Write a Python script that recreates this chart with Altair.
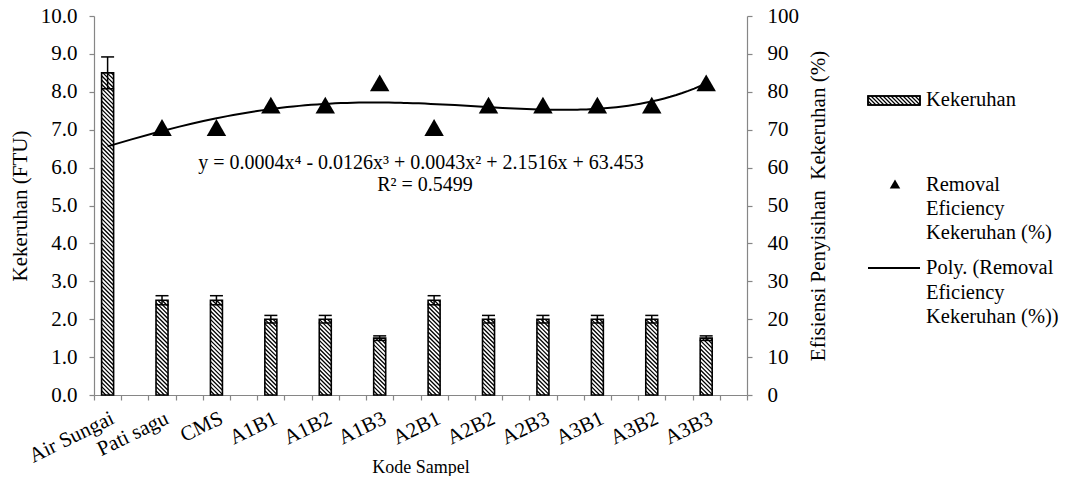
import json
import altair as alt
import pandas as pd

# ---------------- data ----------------
categories = ["Air Sungai", "Pati sagu", "CMS", "A1B1", "A1B2", "A1B3",
              "A2B1", "A2B2", "A2B3", "A3B1", "A3B2", "A3B3"]
kekeruhan = [8.5, 2.5, 2.5, 2.0, 2.0, 1.5, 2.5, 2.0, 2.0, 2.0, 2.0, 1.5]
kekeruhan_err = [0.42, 0.12, 0.12, 0.1, 0.1, 0.06, 0.12, 0.1, 0.1, 0.1, 0.1, 0.06]
efisiensi = [None, 70.59, 70.59, 76.47, 76.47, 82.35, 70.59,
             76.47, 76.47, 76.47, 76.47, 82.35]
left_ticks = [0, 1, 2, 3, 4, 5, 6, 7, 8, 9, 10]
right_ticks = [0, 10, 20, 30, 40, 50, 60, 70, 80, 90, 100]

equation = "y = 0.0004x\u2074 - 0.0126x\u00b3 + 0.0043x\u00b2 + 2.1516x + 63.453"
r2_text = "R\u00b2 = 0.5499"

# ---------------- style ----------------
FONT = "Liberation Serif, Times New Roman, serif"
FS = 21
LFS = 20.5
W, H = 653, 379
GRAY = "#868686"
PX_X = W / 12.0          # pixels per x unit (one category)
PX_Y = H / 10.0          # pixels per left-axis unit

df = pd.DataFrame({
    "cat": categories,
    "kek": kekeruhan,
    "err": kekeruhan_err,
    "eff": efisiensi,
    "idx": list(range(1, len(categories) + 1)),
})

x_scale = alt.Scale(domain=[0, 12], nice=False, zero=False, padding=0)
y1_scale = alt.Scale(domain=[0, 10], nice=False, padding=0)
y2_scale = alt.Scale(domain=[0, 100], nice=False, padding=0)

is_label = "((datum.value * 4) % 4) == 1"
tick_values = [i * 0.5 for i in range(25)] + [i + 0.25 for i in range(12)]
x_axis = alt.Axis(
    values=tick_values,
    labelExpr=f"{is_label} ? {json.dumps(categories)}[floor(datum.value)] : ''",
    labelAngle=334, labelAlign="right", labelBaseline="top",
    labelPadding=7, labelOverlap=False, labelFlush=False, labelBound=False,
    tickOpacity={"condition": {"test": is_label, "value": 0}, "value": 1},
    tickSize=5, tickColor=GRAY, domainColor=GRAY, tickWidth=1.2, domainWidth=1.2,
    grid=False, title="Kode Sampel", titleFont=FONT, titleFontSize=18,
    titleFontWeight="normal", titleColor="black", titleY=72, titleBaseline="middle",
    labelFont=FONT, labelFontSize=FS, labelColor="black",
)
y1_axis = alt.Axis(
    orient="left", values=left_ticks, format=".1f", grid=False,
    tickSize=5, tickColor=GRAY, domainColor=GRAY, tickWidth=1.2, domainWidth=1.2,
    labelFont=FONT, labelFontSize=FS, labelColor="black", labelPadding=12,
    title="Kekeruhan (FTU)", titleFont=FONT, titleFontSize=FS,
    titleFontWeight="normal", titleColor="black", titleX=-74, titleBaseline="middle",
)
y2_axis = alt.Axis(
    orient="right", values=right_ticks, format="d", grid=False,
    tickSize=5, tickColor=GRAY, domainColor=GRAY, tickWidth=1.2, domainWidth=1.2,
    labelFont=FONT, labelFontSize=FS, labelColor="black", labelPadding=15,
    title="Efisiensi Penyisihan\u00a0 Kekeruhan (%)", titleFont=FONT, titleFontSize=FS,
    titleFontWeight="normal", titleColor="black", titleAngle=270, titleX=71,
    titleBaseline="middle",
)

base = alt.Chart(df).transform_calculate(xpos="datum.idx - 0.75")

BAR_PX = 12
hw = (BAR_PX / 2.0) / PX_X           # half bar width in x units
D = (BAR_PX) / PX_Y                  # vertical drop of one hatch stroke
S = 4.2 / PX_Y                       # hatch spacing

bars_fill = base.mark_bar(size=BAR_PX, fill="white", strokeWidth=0).encode(
    x=alt.X("xpos:Q", scale=x_scale, axis=x_axis),
    y=alt.Y("kek:Q", scale=y1_scale, axis=y1_axis),
)

hatch = base.transform_calculate(
    s=f"sequence({-D}, datum.kek, {S})"
).transform_flatten(["s"]).transform_calculate(
    yl=f"datum.s + {D}",
    yr="datum.s",
    xl=f"datum.xpos - {hw}",
    xr=f"datum.xpos + {hw}",
).transform_calculate(
    xr2=f"datum.yr < 0 ? datum.xl + (datum.yl / {D}) * {2 * hw} : datum.xr",
    yr2="max(datum.yr, 0)",
    xl2=f"datum.yl > datum.kek ? datum.xl + ((datum.yl - datum.kek) / {D}) * {2 * hw} : datum.xl",
    yl2="min(datum.yl, datum.kek)",
).mark_rule(color="black", strokeWidth=1.3).encode(
    x=alt.X("xl2:Q", scale=x_scale, axis=x_axis),
    x2="xr2:Q",
    y=alt.Y("yl2:Q", scale=y1_scale, axis=y1_axis),
    y2="yr2:Q",
)

bars_outline = base.mark_bar(size=BAR_PX, fillOpacity=0, stroke="black",
                             strokeWidth=1.6).encode(
    x=alt.X("xpos:Q", scale=x_scale, axis=x_axis),
    y=alt.Y("kek:Q", scale=y1_scale, axis=y1_axis),
)

err_base = base.transform_calculate(lo="datum.kek - datum.err",
                                    hi="datum.kek + datum.err")
err_rule = err_base.mark_rule(color="black", strokeWidth=1.5).encode(
    x=alt.X("xpos:Q", scale=x_scale, axis=x_axis),
    y=alt.Y("lo:Q", scale=y1_scale, axis=y1_axis),
    y2="hi:Q",
)
err_cap_hi = err_base.mark_tick(orient="horizontal", size=13, thickness=1.5,
                                color="black", opacity=1).encode(
    x=alt.X("xpos:Q", scale=x_scale, axis=x_axis),
    y=alt.Y("hi:Q", scale=y1_scale, axis=y1_axis),
)
err_cap_lo = err_base.mark_tick(orient="horizontal", size=13, thickness=1.5,
                                color="black", opacity=1).encode(
    x=alt.X("xpos:Q", scale=x_scale, axis=x_axis),
    y=alt.Y("lo:Q", scale=y1_scale, axis=y1_axis),
)

left_layer = alt.layer(bars_fill, hatch, bars_outline, err_rule, err_cap_hi, err_cap_lo)

# ---- secondary axis: removal efficiency + polynomial trend ----
eff_base = alt.Chart(df).transform_filter("isValid(datum.eff)")
trend = eff_base.transform_regression(
    "idx", "eff", method="poly", order=4, extent=[1, 12]
).transform_calculate(xpos="datum.idx - 0.75").mark_line(
    color="black", strokeWidth=2
).encode(
    x=alt.X("xpos:Q", scale=x_scale, axis=x_axis),
    y=alt.Y("eff:Q", scale=y2_scale, axis=y2_axis),
)
points = eff_base.transform_calculate(xpos="datum.idx - 0.75").mark_point(
    shape="triangle-up", filled=True, size=380, color="black", opacity=1
).encode(
    x=alt.X("xpos:Q", scale=x_scale, axis=x_axis),
    y=alt.Y("eff:Q", scale=y2_scale, axis=y2_axis),
)

# ---- annotations and legend (pixel positions, decoration only) ----
one = pd.DataFrame({"k": [0]})
texts = []
for txt, tx, ty, al, fs in [
    (equation, 327, 147, "center", 20),
    (r2_text, 331, 169, "center", 20),
    ("Kekeruhan", 832, 84, "left", LFS),
    ("Removal", 832, 169, "left", LFS),
    ("Eficiency", 832, 193, "left", LFS),
    ("Kekeruhan (%)", 832, 217, "left", LFS),
    ("Poly. (Removal", 832, 252, "left", LFS),
    ("Eficiency", 832, 277, "left", LFS),
    ("Kekeruhan (%))", 832, 301, "left", LFS),
]:
    texts.append(alt.Chart(one).mark_text(
        font=FONT, fontSize=fs, align=al, baseline="middle", color="black"
    ).encode(x=alt.value(tx), y=alt.value(ty), text=alt.value(txt)))

SW_X, SW_Y, SW_W, SW_H = 774, 80, 52, 9
swatch_bg = alt.Chart(one).mark_rect(fill="white", stroke="black", strokeWidth=1.5).encode(
    x=alt.value(SW_X), x2=alt.value(SW_X + SW_W), y=alt.value(SW_Y), y2=alt.value(SW_Y + SW_H))
swatch_hatch = alt.Chart(one).transform_calculate(
    p=f"sequence({-SW_H}, {SW_W}, 4)"
).transform_flatten(["p"]).transform_calculate(
    x1=f"{SW_X} + max(datum.p, 0)",
    y1=f"{SW_Y} + max(-datum.p, 0)",
    x2=f"{SW_X} + min(datum.p + {SW_H}, {SW_W})",
    y2=f"{SW_Y} + min({SW_H}, {SW_W} - datum.p)",
).mark_rule(color="black", strokeWidth=1.2).encode(
    x=alt.X("x1:Q", scale=None), x2="x2:Q",
    y=alt.Y("y1:Q", scale=None), y2="y2:Q",
)
swatch_border = alt.Chart(one).mark_rect(fillOpacity=0, stroke="black", strokeWidth=1.5).encode(
    x=alt.value(SW_X), x2=alt.value(SW_X + SW_W), y=alt.value(SW_Y), y2=alt.value(SW_Y + SW_H))
legend_tri = alt.Chart(one).mark_point(shape="triangle-up", filled=True, size=110,
                                       color="black", opacity=1).encode(
    x=alt.value(801), y=alt.value(168))
legend_line = alt.Chart(one).mark_rule(color="black", strokeWidth=2).encode(
    x=alt.value(774), x2=alt.value(826), y=alt.value(252))

right_layer = alt.layer(trend, points, swatch_bg, swatch_hatch, swatch_border,
                        legend_tri, legend_line, *texts)

chart = alt.layer(left_layer, right_layer).resolve_scale(y="independent").properties(
    width=W, height=H,
    autosize=alt.AutoSizeParams(type="none"),
    padding={"left": 86, "top": 8, "right": 312, "bottom": 81},
).configure_view(stroke=None)

chart.save("out.html", embed_options={"renderer": "svg", "actions": False})
